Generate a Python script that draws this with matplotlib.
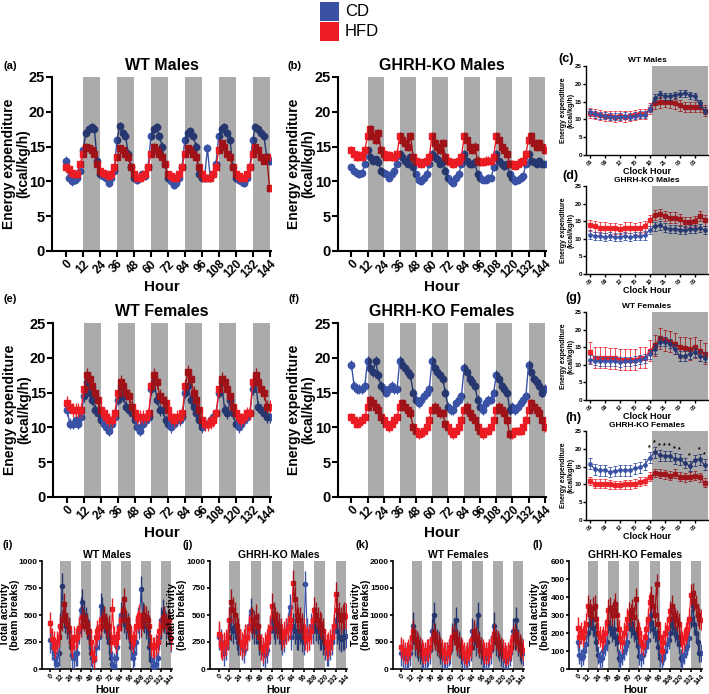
import numpy as np
import matplotlib
matplotlib.use('Agg')
import matplotlib.pyplot as plt
from matplotlib.patches import Rectangle

plt.rcParams['font.family'] = ['Liberation Sans', 'DejaVu Sans']
plt.rcParams['font.weight'] = 'bold'
plt.rcParams['axes.labelweight'] = 'bold'
plt.rcParams['axes.titleweight'] = 'bold'

# ---------------- data ----------------
hours = np.arange(0, 145, 2)
hour_ticks = list(range(0, 145, 12))
clock_labels = ['06', '09', '12', '15', '18', '21', '00', '03']
clock_idx = np.arange(24)

# (a) WT Males energy expenditure
wtm_cd = [13.0, 10.5, 10.0, 10.2, 10.5, 11.5, 14.5, 17.0, 17.5, 17.8, 17.5, 13.0,
          11.0, 10.8, 10.5, 9.8, 10.5, 11.5, 16.0, 18.0, 17.0, 16.5, 14.0, 12.0,
          10.5, 10.2, 10.5, 11.0, 10.8, 12.0, 16.5, 17.5, 17.8, 16.5, 15.0, 12.5,
          10.5, 10.0, 9.5, 9.8, 10.5, 12.0, 16.0, 17.0, 17.2, 16.5, 15.0, 11.0,
          10.5, 10.5, 14.8, 10.5, 11.0, 12.5, 16.5, 17.5, 17.8, 17.0, 16.0, 12.0,
          10.5, 10.2, 10.0, 9.8, 10.5, 12.0, 16.0, 17.8, 17.5, 17.0, 16.5, 13.5, 13.0]
wtm_hfd = [12.0, 11.8, 11.2, 11.0, 11.0, 12.5, 14.0, 15.0, 14.8, 14.5, 14.0, 12.5,
           11.5, 11.2, 11.0, 10.8, 11.0, 12.0, 13.5, 14.8, 14.5, 14.0, 13.5, 12.0,
           11.0, 10.5, 10.5, 10.8, 11.0, 12.0, 14.0, 15.0, 14.5, 14.0, 13.5, 12.5,
           11.0, 10.8, 10.5, 10.5, 11.0, 12.0, 14.0, 14.8, 14.5, 14.0, 13.5, 12.0,
           11.0, 10.5, 10.5, 10.5, 11.0, 12.0, 14.5, 15.5, 15.0, 14.0, 13.5, 12.0,
           11.0, 10.8, 10.5, 10.5, 11.0, 12.0, 14.0, 15.0, 14.5, 13.5, 13.0, 13.5, 9.0]
# (b) GHRH-KO Males
kom_cd = [12.0, 11.5, 11.2, 11.0, 11.2, 12.5, 14.5, 13.5, 13.0, 13.2, 12.8, 11.5,
          11.2, 11.0, 10.5, 11.0, 11.5, 12.5, 14.0, 13.5, 13.0, 12.5, 13.5, 12.0,
          11.0, 10.2, 10.0, 10.5, 11.0, 12.5, 14.0, 13.5, 13.2, 12.5, 13.0, 11.5,
          10.5, 10.0, 9.8, 10.5, 11.0, 12.5, 14.0, 13.0, 12.5, 12.5, 12.8, 11.0,
          10.5, 10.2, 10.2, 10.5, 10.5, 12.0, 14.0, 13.0, 12.5, 12.2, 12.5, 11.0,
          10.5, 10.0, 10.2, 10.5, 10.8, 12.5, 14.0, 13.0, 12.8, 12.5, 13.0, 12.5, 12.5]
kom_hfd = [14.5, 14.0, 13.5, 13.8, 13.5, 14.5, 16.5, 17.5, 16.5, 16.0, 17.0, 14.5,
           14.0, 13.5, 13.8, 13.5, 13.5, 14.0, 16.5, 16.0, 15.5, 15.0, 16.5, 13.5,
           13.0, 12.8, 12.5, 12.8, 13.0, 13.5, 16.5, 15.5, 15.0, 14.5, 15.5, 13.5,
           13.0, 12.8, 12.5, 12.8, 13.0, 13.5, 16.5, 16.0, 15.0, 14.5, 15.0, 13.0,
           12.8, 12.8, 13.0, 13.0, 13.0, 13.5, 16.5, 16.0, 15.0, 14.5, 14.0, 12.5,
           12.5, 12.2, 12.5, 12.8, 13.0, 14.0, 16.0, 16.5, 15.5, 15.0, 15.5, 15.0, 14.5]
# (e) WT Females
wtf_cd = [12.5, 10.5, 10.5, 11.0, 10.5, 11.5, 14.5, 16.5, 15.0, 14.0, 12.5, 12.0,
          11.0, 10.5, 10.0, 9.5, 10.5, 11.5, 14.0, 16.0, 14.5, 13.0, 12.5, 12.0,
          11.0, 10.0, 9.5, 10.5, 11.0, 11.5, 15.5, 16.5, 14.0, 12.5, 12.5, 11.0,
          10.5, 10.0, 10.5, 11.0, 11.0, 11.5, 15.0, 16.0, 14.0, 13.0, 12.0, 11.0,
          10.0, 10.5, 10.5, 11.0, 11.5, 12.0, 15.0, 16.5, 12.5, 12.0, 14.0, 12.0,
          10.5, 10.0, 10.5, 11.0, 11.5, 12.0, 15.5, 16.5, 13.0, 12.5, 12.0, 11.5, 11.5]
wtf_hfd = [13.5, 13.0, 12.5, 12.5, 12.5, 12.5, 15.5, 17.5, 17.0, 16.0, 15.0, 14.0,
           12.5, 12.0, 11.5, 11.0, 11.0, 12.0, 15.0, 16.5, 16.0, 15.0, 14.5, 13.0,
           12.0, 11.5, 11.5, 11.5, 11.5, 12.0, 16.0, 17.5, 16.5, 14.5, 14.0, 13.5,
           12.5, 11.5, 11.0, 11.5, 11.5, 12.0, 16.0, 18.0, 17.0, 15.0, 14.0, 12.5,
           11.0, 10.5, 10.5, 10.8, 11.0, 12.0, 15.5, 17.0, 16.5, 15.5, 14.5, 13.0,
           12.0, 11.5, 11.0, 11.5, 12.0, 12.0, 16.5, 17.5, 16.5, 15.5, 15.0, 13.0, 13.0]
# (f) GHRH-KO Females
kof_cd = [19.0, 16.0, 15.5, 15.5, 15.5, 16.0, 19.5, 18.5, 18.0, 19.5, 17.5, 16.0,
          15.5, 15.0, 15.5, 16.0, 15.5, 15.5, 19.5, 19.0, 18.5, 18.0, 17.5, 15.0,
          14.0, 13.5, 14.0, 14.5, 15.0, 15.5, 19.5, 18.5, 18.0, 17.5, 17.0, 15.0,
          13.0, 12.5, 12.5, 13.5, 14.0, 14.5, 18.5, 18.0, 17.0, 16.5, 16.0, 14.0,
          13.0, 12.5, 13.5, 14.0, 14.0, 15.0, 17.5, 17.0, 16.0, 15.5, 15.0, 12.5,
          13.0, 12.5, 13.0, 13.5, 14.0, 14.5, 19.0, 18.0, 17.0, 16.5, 16.0, 15.0, 15.5]
kof_hfd = [11.5, 11.0, 10.5, 10.8, 11.0, 11.5, 13.0, 14.0, 13.5, 13.0, 12.5, 11.5,
           11.0, 10.5, 10.0, 10.5, 11.0, 11.5, 13.0, 13.5, 13.0, 12.5, 12.0, 10.0,
           9.5, 9.0, 9.2, 9.5, 10.0, 11.0, 12.5, 13.0, 12.5, 12.0, 12.0, 10.5,
           10.0, 9.5, 9.0, 9.5, 10.0, 11.0, 12.5, 13.0, 12.0, 11.5, 11.0, 10.0,
           9.5, 9.0, 9.5, 9.5, 10.0, 11.0, 12.5, 13.0, 12.5, 12.0, 11.0, 9.0,
           9.0, 9.5, 9.5, 9.5, 10.0, 11.0, 12.5, 13.5, 13.0, 12.5, 12.0, 11.0, 10.0]

# (c,d,g,h) clock-hour averages
c_cd = [12.0, 11.5, 11.2, 11.0, 10.8, 10.8, 10.8, 11.0, 10.8, 11.0, 11.3, 11.3,
        13.0, 16.0, 17.0, 16.5, 16.5, 16.8, 17.2, 17.3, 16.8, 16.5, 14.5, 12.5]
c_hfd = [11.8, 11.5, 11.2, 11.0, 11.0, 10.8, 11.0, 10.8, 11.0, 11.2, 11.5, 11.5,
         13.0, 14.5, 14.8, 15.0, 14.8, 14.5, 14.0, 13.5, 13.5, 13.5, 13.5, 12.5]
d_cd = [11.2, 10.8, 10.8, 10.5, 10.8, 10.5, 10.5, 10.8, 10.5, 10.8, 10.8, 11.0,
        12.5, 13.5, 13.8, 13.2, 12.8, 12.8, 12.5, 12.5, 12.8, 12.8, 13.0, 12.5]
d_hfd = [13.8, 13.5, 13.2, 13.2, 13.0, 13.0, 12.8, 13.2, 13.2, 13.0, 13.2, 13.5,
         15.2, 16.8, 17.0, 16.5, 16.0, 16.0, 15.5, 14.8, 14.8, 15.0, 16.5, 15.2]
g_cd = [11.5, 11.2, 11.0, 11.0, 11.0, 11.0, 10.8, 11.0, 11.0, 11.2, 11.5, 11.8,
        13.0, 14.5, 16.5, 16.5, 16.0, 14.5, 12.5, 12.5, 13.0, 13.5, 12.5, 12.0]
g_hfd = [13.5, 12.0, 12.0, 12.0, 11.8, 11.8, 11.5, 11.5, 11.5, 11.5, 12.0, 12.0,
         14.0, 15.5, 17.5, 17.0, 16.5, 16.0, 15.0, 14.8, 14.5, 15.0, 14.0, 13.2]
h_cd = [15.8, 14.2, 14.0, 14.0, 13.5, 13.8, 14.0, 14.0, 14.0, 14.5, 14.8, 15.5,
        17.5, 19.0, 18.2, 18.0, 18.0, 17.2, 17.0, 16.0, 15.2, 16.8, 17.0, 15.5]
h_hfd = [11.0, 10.2, 10.2, 10.2, 10.0, 9.8, 9.8, 10.0, 10.0, 10.2, 10.8, 11.0,
         12.2, 13.2, 13.0, 12.8, 12.5, 13.0, 12.2, 12.0, 12.2, 12.5, 12.0, 10.5]
h_sig = [12, 13, 14, 15, 16, 17, 18, 20, 22, 23]

# (i-l) total activity
act_wtm_cd = [270, 200, 150, 100, 50, 150, 400, 770, 500, 450, 400, 350,
              200, 130, 100, 150, 150, 350, 550, 620, 500, 450, 400, 300,
              150, 100, 80, 200, 300, 300, 580, 550, 450, 400, 350, 250,
              100, 50, 30, 100, 200, 400, 500, 520, 450, 400, 400, 350,
              200, 100, 150, 250, 450, 400, 740, 500, 450, 400, 350, 200,
              80, 30, 20, 50, 100, 300, 450, 530, 450, 400, 420, 350, 280]
act_wtm_hfd = [430, 280, 250, 200, 250, 300, 400, 450, 600, 500, 420, 380,
               250, 200, 300, 280, 300, 380, 400, 480, 450, 420, 400, 350,
               250, 150, 100, 300, 350, 380, 400, 450, 480, 420, 380, 400,
               250, 560, 300, 250, 300, 380, 450, 550, 650, 450, 400, 380,
               280, 250, 300, 400, 450, 500, 400, 450, 500, 480, 450, 400,
               220, 200, 200, 220, 250, 350, 400, 450, 480, 420, 400, 450, 280]
act_kom_cd = [300, 250, 200, 150, 200, 300, 450, 380, 350, 400, 300, 250,
              250, 200, 180, 250, 300, 400, 540, 400, 350, 350, 400, 250,
              200, 150, 130, 180, 250, 350, 450, 400, 350, 400, 350, 300,
              250, 280, 350, 400, 570, 300, 400, 350, 300, 300, 350, 280,
              250, 790, 350, 300, 400, 350, 450, 380, 350, 300, 300, 250,
              200, 150, 150, 200, 250, 350, 450, 350, 300, 280, 300, 300, 310]
act_kom_hfd = [320, 220, 200, 220, 250, 300, 450, 620, 550, 500, 400, 350,
               250, 220, 250, 300, 300, 380, 450, 450, 420, 480, 400, 300,
               200, 180, 220, 250, 300, 380, 580, 500, 450, 420, 400, 350,
               300, 320, 350, 380, 400, 450, 800, 650, 500, 450, 450, 400,
               350, 300, 280, 300, 350, 450, 550, 500, 450, 420, 400, 350,
               250, 200, 220, 250, 300, 400, 690, 550, 500, 450, 480, 500, 490]
act_wtf_cd = [300, 250, 200, 200, 250, 300, 600, 800, 500, 450, 400, 350,
              250, 200, 200, 250, 300, 350, 700, 1000, 600, 500, 450, 350,
              250, 200, 200, 250, 300, 350, 600, 700, 900, 500, 450, 350,
              250, 200, 150, 250, 300, 400, 700, 600, 500, 1000, 450, 350,
              250, 200, 200, 250, 300, 350, 600, 800, 500, 450, 400, 300,
              250, 200, 150, 200, 300, 400, 700, 600, 900, 500, 400, 350, 300]
act_wtf_hfd = [400, 350, 300, 300, 350, 400, 600, 700, 550, 500, 450, 400,
               350, 300, 300, 350, 350, 400, 550, 650, 550, 500, 450, 400,
               350, 300, 300, 300, 350, 400, 600, 650, 550, 500, 450, 400,
               350, 300, 250, 300, 350, 400, 550, 700, 600, 500, 450, 400,
               350, 300, 300, 300, 350, 400, 550, 650, 550, 500, 450, 400,
               350, 300, 250, 300, 350, 400, 600, 650, 550, 500, 450, 400, 350]
act_kof_cd = [150, 80, 60, 70, 100, 140, 200, 250, 280, 230, 200, 150,
              80, 50, 60, 100, 120, 150, 250, 230, 200, 220, 180, 150,
              60, 50, 70, 100, 130, 150, 280, 220, 250, 200, 180, 130,
              70, 60, 80, 120, 140, 160, 250, 300, 220, 200, 170, 120,
              60, 50, 70, 100, 140, 160, 200, 250, 230, 200, 180, 140,
              60, 50, 80, 110, 130, 170, 280, 350, 250, 200, 150, 90, 90]
act_kof_hfd = [230, 180, 200, 180, 210, 250, 350, 330, 300, 340, 350, 280,
               200, 180, 160, 180, 200, 260, 330, 340, 300, 330, 360, 300,
               220, 170, 150, 200, 230, 280, 310, 300, 330, 290, 390, 220,
               200, 150, 130, 180, 220, 280, 370, 400, 350, 300, 470, 250,
               180, 100, 150, 200, 230, 280, 320, 350, 300, 280, 270, 250,
               180, 150, 170, 200, 220, 280, 410, 420, 380, 350, 300, 280, 275]

# ---------------- style ----------------
BLUE = '#3A52A6'
RED = '#EC1C24'
W, H = 709, 694
fig = plt.figure(figsize=(W / 100, H / 100), dpi=100)


def ax_px(l, r, t, b):
    return fig.add_axes([l / W, 1 - b / H, (r - l) / W, (b - t) / H])


def style(ax, lw, tick_len, xfs, yfs):
    for s in ['top', 'right']:
        ax.spines[s].set_visible(False)
    for s in ['left', 'bottom']:
        ax.spines[s].set_linewidth(lw)
    ax.tick_params(width=lw, length=tick_len, pad=1)
    ax.tick_params(axis='x', labelsize=xfs)
    ax.tick_params(axis='y', labelsize=yfs)
    for lab in ax.get_xticklabels() + ax.get_yticklabels():
        lab.set_fontweight('bold')


def bands(ax, starts, width):
    for s in starts:
        ax.axvspan(s, s + width, color='black', alpha=0.33, lw=0, zorder=6)


def hour_panel(box, cd, hfd, cde, hfde, kind='ee'):
    ax = ax_px(*box)
    if kind == 'ee':
        ms, lw, ew = 4.6, 1.0, 0.9
    else:
        ms, lw, ew = 3.0, 0.8, 1.0
    ax.errorbar(hours, cd, yerr=cde, color=BLUE, ecolor=BLUE, marker='o', ms=ms,
                lw=lw, elinewidth=ew, capsize=0, zorder=3)
    ax.errorbar(hours, hfd, yerr=hfde, color=RED, ecolor=RED, marker='s', ms=ms,
                lw=lw, elinewidth=ew, capsize=0, zorder=4)
    bands(ax, range(12, 144, 24), 12)
    ax.set_xlim(-10, 145)
    ax.set_xticks(hour_ticks)
    ax.set_xticklabels([str(h) for h in hour_ticks], rotation=45, ha='right',
                       rotation_mode='anchor')
    return ax


# ---- big energy panels ----
big = [((52, 271, 77, 251), wtm_cd, wtm_hfd, 0.6, 0.5, 'WT Males', '(a)', (10, 66), -0.10),
       ((338, 546, 77, 251), kom_cd, kom_hfd, 0.5, 0.6, 'GHRH-KO Males', '(b)', (294, 66), -0.11),
       ((53, 271, 323, 497), wtf_cd, wtf_hfd, 0.8, 1.0, 'WT Females', '(e)', (10, 299), -0.10),
       ((338, 546, 323, 497), kof_cd, kof_hfd, 0.7, 0.6, 'GHRH-KO Females', '(f)', (294, 299), -0.11)]
for box, cd, hfd, cde, hfde, title, lab, lpos, lx in big:
    ax = hour_panel(box, cd, hfd, cde, hfde)
    ax.set_ylim(0, 25)
    ax.set_yticks([0, 5, 10, 15, 20, 25])
    style(ax, 1.5, 4, 8.5, 10.5)
    ax.set_title(title, fontsize=11.5, fontweight='bold', pad=5)
    ax.set_xlabel('Hour', fontsize=11, fontweight='bold', labelpad=0)
    ax.set_ylabel('Energy expenditure\n(kcal/kg/h)', fontsize=10, fontweight='bold',
                  linespacing=1.0)
    ax.yaxis.set_label_coords(lx, 0.5)
    fig.text(lpos[0] / W, 1 - lpos[1] / H, lab, fontsize=8, fontweight='bold',
             ha='center', va='center')

# ---- clock-hour panels ----
clock = [((586, 708, 66, 155), c_cd, c_hfd, 1.0, 1.5, 'WT Males', '(c)', (566, 59)),
         ((586, 708, 186, 274), d_cd, d_hfd, 1.2, 1.5, 'GHRH-KO Males', '(d)', (570, 176)),
         ((586, 708, 312, 400), g_cd, g_hfd, 1.3, 3.0, 'WT Females', '(g)', (573, 298)),
         ((586, 708, 431, 520), h_cd, h_hfd, 1.5, 1.2, 'GHRH-KO Females', '(h)', (573, 418))]
for box, cd, hfd, cde, hfde, title, lab, lpos in clock:
    ax = ax_px(*box)
    ax.errorbar(clock_idx, cd, yerr=cde, color=BLUE, ecolor=BLUE, marker='o', ms=2.4,
                lw=0.9, elinewidth=0.6, capsize=1.5, capthick=0.6, zorder=4)
    ax.errorbar(clock_idx, hfd, yerr=hfde, color=RED, ecolor=RED, marker='s', ms=2.4,
                lw=0.9, elinewidth=0.6, capsize=1.5, capthick=0.6, zorder=3, alpha=0.9)
    ax.axvspan(12.5, 23.7, color='black', alpha=0.33, lw=0, zorder=6)
    ax.set_xlim(-0.8, 23.7)
    ax.set_ylim(0, 25)
    ax.set_yticks([0, 5, 10, 15, 20, 25])
    ax.set_xticks(range(0, 24, 3))
    ax.set_xticklabels(clock_labels, rotation=45, ha='right', rotation_mode='anchor')
    style(ax, 1.0, 2, 4, 4.5)
    ax.set_title(title, fontsize=6, fontweight='bold', pad=3)
    ax.set_xlabel('Clock Hour', fontsize=6.5, fontweight='bold', labelpad=0)
    ax.set_ylabel('Energy expenditure\n(kcal/kg/h)', fontsize=5, fontweight='bold',
                  linespacing=1.0)
    ax.yaxis.set_label_coords(-0.095, 0.5)
    fig.text(lpos[0] / W, 1 - lpos[1] / H, lab, fontsize=9, fontweight='bold',
             ha='center', va='center')
    if lab == '(h)':
        for i in h_sig:
            ax.text(i, cd[i] + cde + 0.3, '*', fontsize=5, ha='center', va='bottom',
                    fontweight='bold', zorder=7)

# ---- activity panels ----
act = [((42, 172, 561, 669), act_wtm_cd, act_wtm_hfd, 120, 100, 'WT Males', '(i)', (8, 545),
        (0, 1000), [0, 250, 500, 750, 1000], -0.17),
       ((210, 347, 561, 669), act_kom_cd, act_kom_hfd, 120, 120, 'GHRH-KO Males', '(j)', (188, 545),
        (0, 1000), [0, 250, 500, 750, 1000], -0.165),
       ((393, 524, 561, 669), act_wtf_cd, act_wtf_hfd, 250, 200, 'WT Females', '(k)', (362, 545),
        (0, 2000), [0, 500, 1000, 1500, 2000], -0.17),
       ((569, 702, 561, 669), act_kof_cd, act_kof_hfd, 50, 60, 'GHRH-KO Females', '(l)', (538, 545),
        (0, 600), [0, 100, 200, 300, 400, 500, 600], -0.14)]
for box, cd, hfd, cde, hfde, title, lab, lpos, ylim, yt, lx in act:
    ax = hour_panel(box, cd, hfd, cde, hfde, kind='act')
    ax.set_ylim(*ylim)
    ax.set_yticks(yt)
    style(ax, 1.2, 2, 5, 6)
    ax.set_title(title, fontsize=7.5, fontweight='bold', pad=2)
    ax.set_xlabel('Hour', fontsize=7.5, fontweight='bold', labelpad=-1)
    ax.set_ylabel('Total activity\n(beam breaks)', fontsize=7.5, fontweight='bold',
                  linespacing=1.0)
    ax.yaxis.set_label_coords(lx, 0.5)
    fig.text(lpos[0] / W, 1 - lpos[1] / H, lab, fontsize=8, fontweight='bold',
             ha='center', va='center')

# ---- legend ----
fig.add_artist(Rectangle((320 / W, 1 - 21 / H), 19 / W, 19 / H, transform=fig.transFigure,
                         facecolor=BLUE, edgecolor='none'))
fig.add_artist(Rectangle((320 / W, 1 - 41 / H), 19 / W, 19 / H, transform=fig.transFigure,
                         facecolor=RED, edgecolor='none'))
fig.text(345 / W, 1 - 12 / H, 'CD', fontsize=12, fontweight='normal', va='center', ha='left')
fig.text(345 / W, 1 - 32 / H, 'HFD', fontsize=12, fontweight='normal', va='center', ha='left')

fig.savefig('out.png', dpi=100)
